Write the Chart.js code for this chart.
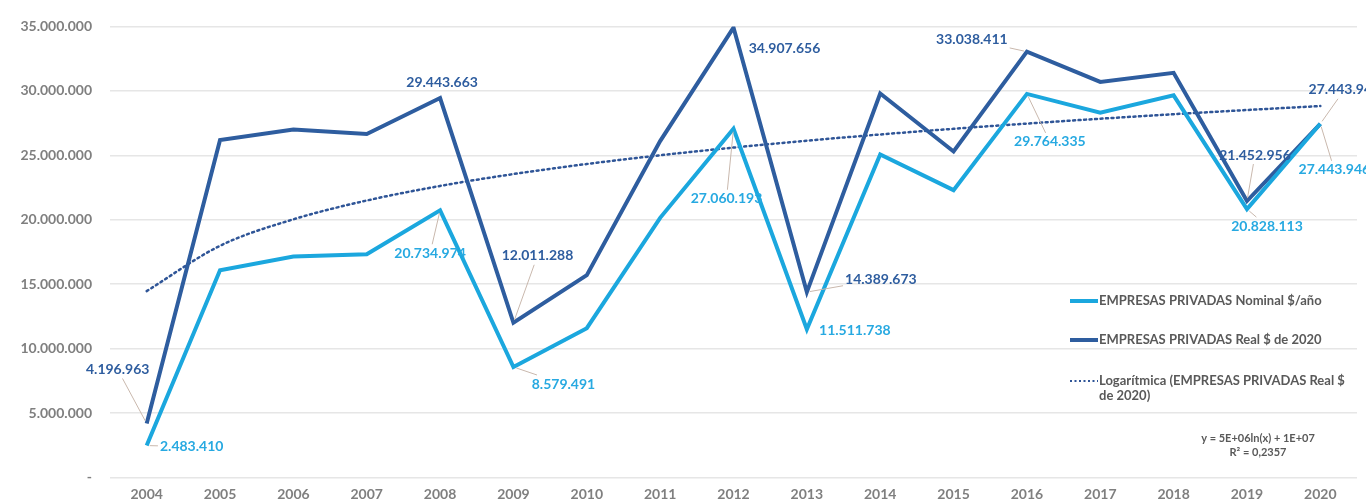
<!DOCTYPE html>
<html>
<head>
<meta charset="utf-8">
<script src="https://cdn.jsdelivr.net/npm/chart.js@4.4.0/dist/chart.umd.min.js"></script>
<style>
  html, body { margin: 0; padding: 0; background: #fff; overflow: hidden; }
  #wrap { width: 1366px; height: 504px; position: relative; }
</style>
</head>
<body>
<div id="wrap"><canvas id="myLineChart" width="1366" height="504"></canvas></div>
<script>
// years on the x axis
const years = ["2004","2005","2006","2007","2008","2009","2010","2011","2012","2013","2014","2015","2016","2017","2018","2019","2020"];

// EMPRESAS PRIVADAS, nominal $/año
const nominal = [2483410, 16080000, 17150000, 17330000, 20734974, 8579491, 11590000, 20150000, 27060193, 11511738, 25070000, 22300000, 29764335, 28300000, 29650000, 20828113, 27443946];

// EMPRESAS PRIVADAS, real $ de 2020
const real = [4196963, 26190000, 27000000, 26650000, 29443663, 12011288, 15700000, 26100000, 34907656, 14389673, 29800000, 25300000, 33038411, 30690000, 31400000, 21452956, 27443946];

const yTicks = [0, 5000000, 10000000, 15000000, 20000000, 25000000, 30000000, 35000000];

// which points carry a value label
const nominalLabelled = [0, 4, 5, 8, 9, 12, 15, 16];
const realLabelled = [0, 4, 5, 8, 9, 12, 15, 16];

// label placement relative to the point (px): [dx, dy, leader]
const nominalLabelPos = {0: [45, 1, 1], 4: [-10, 43, 1], 5: [50, 17, 1], 8: [-7, 70, 1], 9: [48, 1, 0], 12: [23, 48, 1], 15: [20, 17, 1], 16: [14, 46, 1]};
const realLabelPos = {0: [-29, -54, 1], 4: [2, -16, 0], 5: [24, -67, 1], 8: [51, 21, 0], 9: [74, -13, 1], 12: [-55, -12, 1], 15: [8, -46, 1], 16: [24, -34, 1]};

const lightBlue = "#1ba7de";
const darkBlue = "#2e5d9f";
const trendColor = "#2f5597";

const fmt = v => Math.round(v).toString().replace(/\B(?=(\d{3})+(?!\d))/g, ".");

// logarithmic trend line (least squares of real vs ln(x))
const lx = real.map((v, i) => Math.log(i + 1));
const mx = lx.reduce((a, b) => a + b, 0) / lx.length;
const my = real.reduce((a, b) => a + b, 0) / real.length;
let sxy = 0, sxx = 0;
lx.forEach((x, i) => { sxy += (x - mx) * (real[i] - my); sxx += (x - mx) * (x - mx); });
const slope = sxy / sxx;
const intercept = my - slope * mx;
const trend = lx.map(x => intercept + slope * x);

const labelsPlugin = {
  id: "labelsPlugin",
  afterDatasetsDraw(chart) {
    const ctx = chart.ctx;
    ctx.save();
    ctx.font = "bold 14px Lato";
    ctx.textAlign = "center";
    ctx.textBaseline = "middle";
    const drawSet = (dsIndex, idxs, pos, color, values) => {
      const meta = chart.getDatasetMeta(dsIndex);
      idxs.forEach(i => {
        const pt = meta.data[i];
        const [dx, dy, leader] = pos[i];
        const cx = pt.x + dx, cy = pt.y + dy;
        const text = fmt(values[i]);
        const w = ctx.measureText(text).width;
        if (leader) {
          const vx = pt.x - cx, vy = pt.y - cy;
          const hw = w / 2 + 2, hh = 9;
          const t = Math.min(Math.abs(vx) > 0 ? hw / Math.abs(vx) : 99, Math.abs(vy) > 0 ? hh / Math.abs(vy) : 99);
          const sx = cx + vx * t, sy = cy + vy * t;
          const len = Math.hypot(pt.x - sx, pt.y - sy);
          if (len > 4) {
            const ex = pt.x - (pt.x - sx) / len * 3, ey = pt.y - (pt.y - sy) / len * 3;
            ctx.strokeStyle = "#c9b8ad";
            ctx.lineWidth = 1;
            ctx.beginPath();
            ctx.moveTo(sx, sy);
            ctx.lineTo(ex, ey);
            ctx.stroke();
          }
        }
        ctx.fillStyle = color;
        ctx.fillText(text, cx, cy);
      });
    };
    drawSet(1, realLabelled, realLabelPos, darkBlue, real);
    drawSet(0, nominalLabelled, nominalLabelPos, "#27a9e1", nominal);

    // legend box inside the plot
    const lx0 = 1070, lx1 = 1098, tx = 1099;
    ctx.textAlign = "left";
    ctx.font = "bold 13px Lato";
    ctx.fillStyle = "#595959";
    ctx.lineCap = "butt";
    ctx.lineWidth = 4;
    ctx.strokeStyle = lightBlue;
    ctx.beginPath(); ctx.moveTo(lx0, 301); ctx.lineTo(lx1, 301); ctx.stroke();
    ctx.fillText("EMPRESAS PRIVADAS Nominal $/año", tx, 301);
    ctx.strokeStyle = darkBlue;
    ctx.beginPath(); ctx.moveTo(lx0, 340); ctx.lineTo(lx1, 340); ctx.stroke();
    ctx.fillText("EMPRESAS PRIVADAS Real $ de 2020", tx, 340);
    ctx.strokeStyle = trendColor;
    ctx.lineWidth = 2;
    ctx.setLineDash([2, 2.5]);
    ctx.beginPath(); ctx.moveTo(lx0, 381); ctx.lineTo(lx1, 381); ctx.stroke();
    ctx.setLineDash([]);
    ctx.fillText("Logarítmica (EMPRESAS PRIVADAS Real $", tx, 381);
    ctx.fillText("de 2020)", tx, 396);

    ctx.textAlign = "center";
    ctx.font = "bold 11px Lato";
    ctx.fillText("y = 5E+06ln(x) + 1E+07", 1258, 438);
    ctx.fillText("R² = 0,2357", 1258, 452);
    ctx.restore();
  }
};

const ctx = document.getElementById("myLineChart");
const myChart = new Chart(ctx, {
  type: "line",
  data: {
    labels: years,
    datasets: [
      {
        label: "EMPRESAS PRIVADAS Nominal $/año",
        data: nominal,
        borderColor: lightBlue,
        borderWidth: 4,
        pointRadius: 0,
        tension: 0
      },
      {
        label: "EMPRESAS PRIVADAS Real $ de 2020",
        data: real,
        borderColor: darkBlue,
        borderWidth: 4,
        pointRadius: 0,
        tension: 0
      },
      {
        label: "Logarítmica (EMPRESAS PRIVADAS Real $ de 2020)",
        data: trend,
        borderColor: trendColor,
        borderWidth: 2.5,
        borderDash: [2, 3.5],
        borderCapStyle: "round",
        pointRadius: 0,
        cubicInterpolationMode: "monotone"
      }
    ]
  },
  options: {
    responsive: false,
    animation: false,
    layout: { padding: { top: 21, right: 9, left: 0, bottom: 0 } },
    plugins: { legend: { display: false }, tooltip: { enabled: false } },
    scales: {
      x: {
        offset: true,
        grid: { display: false, drawTicks: false },
        border: { display: false },
        ticks: { color: "#7f7f7f", font: { family: "Lato", size: 14, weight: "bold" }, padding: 8, maxRotation: 0 },
        afterFit: s => { s.height = 26; }
      },
      y: {
        min: 0,
        max: 35000000,
        afterBuildTicks: s => { s.ticks = yTicks.map(v => ({ value: v })); },
        grid: { color: "#e6e6e6", lineWidth: 1.5, drawTicks: false },
        border: { display: false },
        ticks: {
          color: "#7f7f7f",
          font: { family: "Lato", size: 14, weight: "bold" },
          padding: 18,
          callback: v => v === 0 ? "-" : fmt(v)
        },
        afterFit: s => { s.width = 110; }
      }
    }
  },
  plugins: [labelsPlugin]
});
</script>
</body>
</html>
